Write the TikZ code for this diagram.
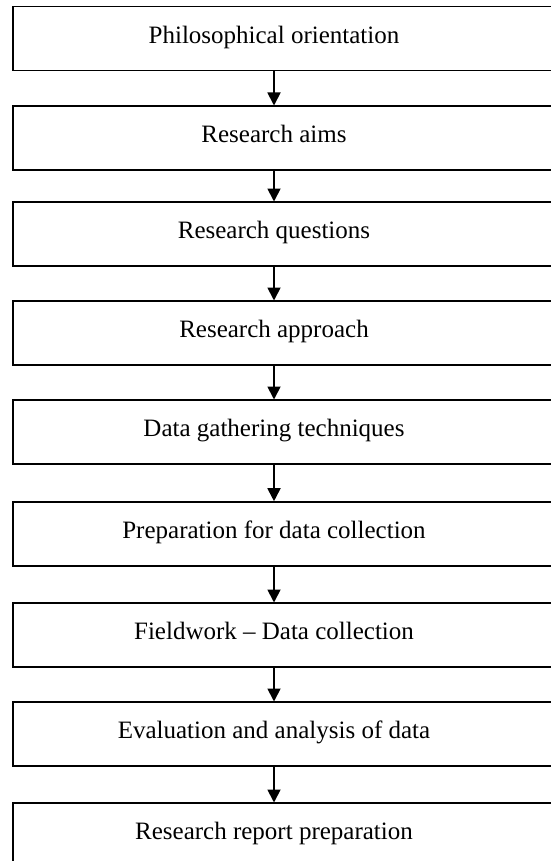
\documentclass[tikz,border=0pt]{standalone}
\usepackage{fontspec}
\setmainfont{Liberation Serif}
\usetikzlibrary{arrows.meta}
\begin{document}
\begin{tikzpicture}[x=1pt,y=-1pt,
  boxnode/.style={draw=black, line width=1.8pt, rectangle, minimum width=600pt, minimum height=64pt, inner sep=0pt, anchor=north west},
  lbl/.style={anchor=base, inner sep=0pt, font=\fontsize{25}{30}\selectfont},
  arr/.style={line width=1.8pt, -{Triangle[length=13pt,width=13pt]}, shorten >=-0.5pt}]
\useasboundingbox (0,0) rectangle (550,861);
\coordinate (ax) at (274,0);
\foreach \i/\t/\txt in {1/5.7/Philosophical orientation,
                     2/105/Research aims,
                     3/201/Research questions,
                     4/300/Research approach,
                     5/399/Data gathering techniques,
                     6/500.7/Preparation for data collection,
                     7/602/Fieldwork -- Data collection,
                     8/701/Evaluation and analysis of data,
                     9/802/Research report preparation}{
  \node[boxnode] (b\i) at (12,\t) {};
  \node[lbl] (t\i) at (274,\t+37.5) {\txt};
}
\foreach \a/\b in {1/2,2/3,3/4,4/5,5/6,6/7,7/8,8/9}{
  \draw[arr] (b\a.south -| ax) -- (b\b.north -| ax);
}
\end{tikzpicture}
\end{document}
